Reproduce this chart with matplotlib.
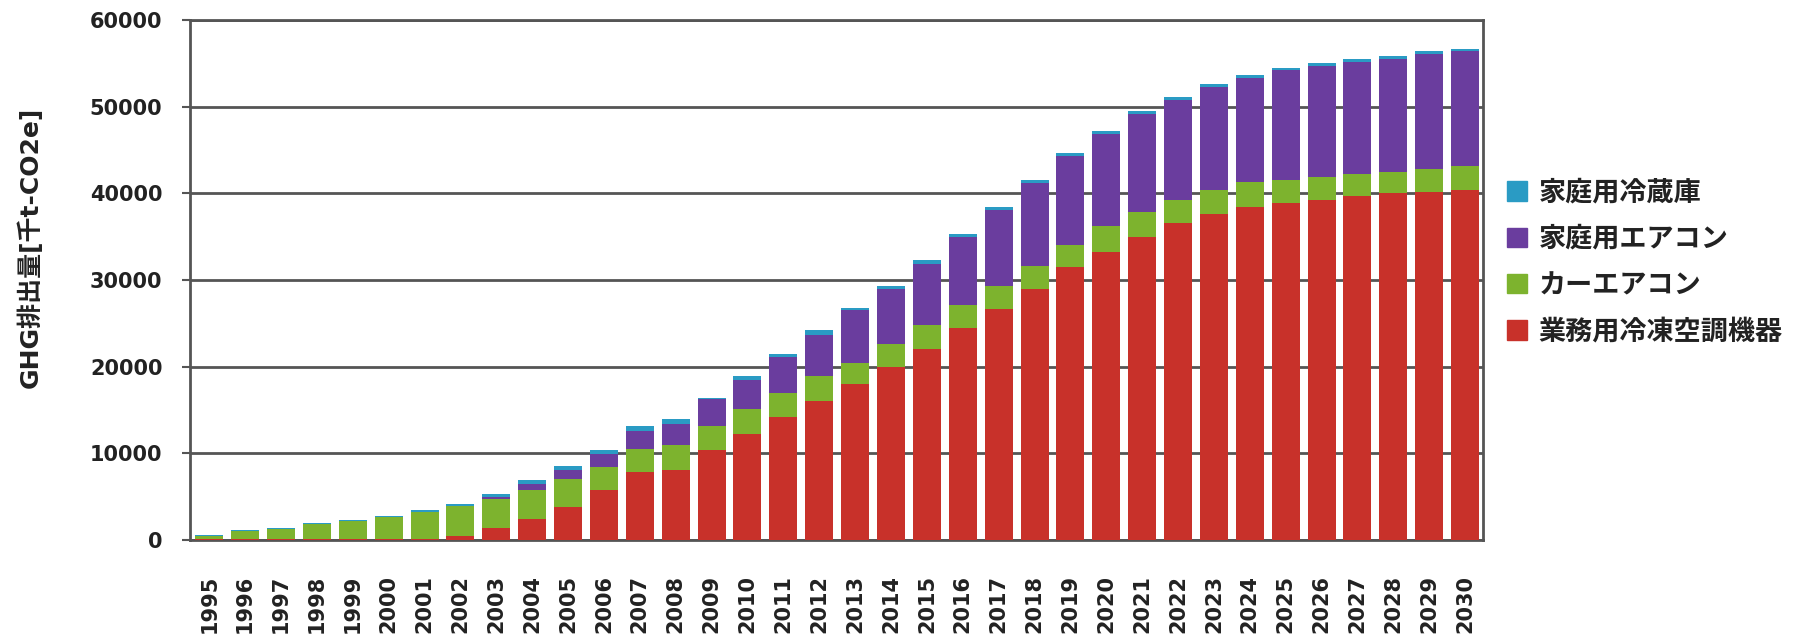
import numpy as np
import matplotlib
matplotlib.use('Agg')
import matplotlib.pyplot as plt
from matplotlib.patches import Patch

plt.rcParams['font.family'] = ['DejaVu Sans', 'Noto Sans CJK JP']

years = list(range(1995, 2031))

# 業務用冷凍空調機器 (kt-CO2e)
commercial = [50, 80, 80, 80, 50, 50, 50, 400, 1400, 2400, 3800, 5750,
              7800, 8100, 10350, 12200, 14160, 16010, 17980, 19940, 22040, 24450,
              26650, 28960, 31470, 33270, 34940, 36530, 37550, 38370, 38900, 39180,
              39640, 40000, 40120, 40400]
# カーエアコン
car_ac = [450, 970, 1220, 1720, 2100, 2550, 3200, 3550, 3300, 3350, 3200, 2650,
          2700, 2850, 2770, 2890, 2780, 2890, 2420, 2660, 2760, 2650,
          2650, 2640, 2610, 2970, 2860, 2650, 2770, 2930, 2600, 2720,
          2560, 2490, 2650, 2700]
# 家庭用エアコン
home_ac = [0, 0, 0, 0, 0, 0, 0, 0, 200, 700, 1050, 1500,
           2100, 2430, 3120, 3350, 4160, 4740, 6130, 6360, 7050, 7870,
           8790, 9600, 10190, 10600, 11290, 11550, 11920, 12050, 12700, 12790,
           12980, 13020, 13350, 13300]
# 家庭用冷蔵庫
fridge = [100, 100, 100, 150, 150, 150, 200, 200, 400, 450, 450, 450,
          600, 570, 160, 460, 340, 560, 270, 340, 450, 330,
          350, 300, 330, 310, 400, 370, 330, 320, 300, 310,
          320, 320, 280, 300]

labels = ['家庭用冷蔵庫', '家庭用エアコン', 'カーエアコン', '業務用冷凍空調機器']
colors = ['#2a9bc4', '#6a3d9e', '#7db32e', '#c8312a']

fig = plt.figure(figsize=(17.95, 6.42), dpi=100)
ax = fig.add_axes([0.106, 0.159, 0.72, 0.81])

x = np.arange(len(years))
w = 0.78
series = [commercial, car_ac, home_ac, fridge]
series_colors = [colors[3], colors[2], colors[1], colors[0]]
bottom = np.zeros(len(years))
for vals, c in zip(series, series_colors):
    ax.bar(x, vals, w, bottom=bottom, color=c, zorder=3)
    bottom += np.array(vals)

ax.set_xlim(-0.53, len(years) - 0.51)
ax.set_ylim(0, 60000)
ax.set_yticks(range(0, 60001, 10000))
ax.set_yticklabels([str(v) for v in range(0, 60001, 10000)], fontsize=15,
                   fontweight='bold', color='#222222')
ax.set_xticks(x)
ax.set_xticklabels([str(y) for y in years], rotation=90, fontsize=15,
                   fontweight='bold', color='#222222')
ax.tick_params(axis='x', length=0, pad=25)
ax.tick_params(axis='y', length=6, width=1.5, color='#555555', pad=14)
ax.grid(axis='y', color='#555555', linewidth=2, zorder=1)
for s in ax.spines.values():
    s.set_color('#555555')
    s.set_linewidth(2)

ax.set_ylabel('GHG排出量[千t-CO2e]', fontsize=18, fontweight='bold', color='#222222')
ax.yaxis.set_label_coords(-0.1145, 0.562)

handles = [Patch(color=c) for c in colors]
fig.legend(handles, labels, loc='center left', bbox_to_anchor=(0.826, 0.592),
           frameon=False, handlelength=0.72, handleheight=0.72,
           handletextpad=0.45, labelspacing=0.68,
           prop={'family': 'Noto Sans CJK JP', 'size': 19.5, 'weight': 'bold'})
for t in fig.legends[0].get_texts():
    t.set_color('#222222')

fig.savefig('out.png', dpi=100)
